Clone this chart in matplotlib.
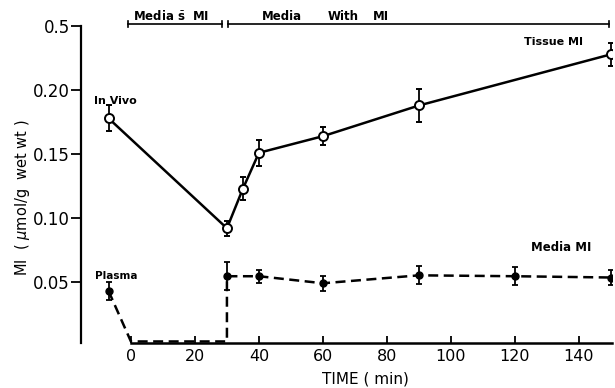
import numpy as np
import matplotlib.pyplot as plt

# Tissue MI (open circles)
tissue_t = [-7, 30, 35, 40, 60, 90, 150]
tissue_mi = [0.178, 0.092, 0.123, 0.151, 0.164, 0.188, 0.228]
tissue_err = [0.010, 0.006, 0.009, 0.010, 0.007, 0.013, 0.009]

# Media MI (filled circles)
media_t = [-7, 30, 40, 60, 90, 120, 150]
media_mi = [0.043, 0.0545, 0.0545, 0.049, 0.0552, 0.0545, 0.0535]
media_err = [0.007, 0.011, 0.005, 0.006, 0.007, 0.007, 0.006]

# dashed media trace (plasma -> no MI -> MI added)
trace_t = [-7, 0, 30, 30, 40, 60, 90, 120, 150]
trace_mi = [0.043, 0.0035, 0.0035, 0.0545, 0.0545, 0.049, 0.0552, 0.0545, 0.0535]

yticks = [0.05, 0.10, 0.15, 0.20, 0.25]
ytick_labels = ['0.05', '0.10', '0.15', '0.20', '0.5']
xticks = [0, 20, 40, 60, 80, 100, 120, 140]

fig = plt.figure(figsize=(6.15, 3.88), dpi=100)
ax = fig.add_axes([0.1317, 0.116, 0.8633, 0.832])
ax.set_xlim(-15.6, 150.3)
ax.set_ylim(0.0023, 0.2547)

# tissue
ax.plot(tissue_t, tissue_mi, color='black', lw=1.8, zorder=2)
ax.errorbar(tissue_t, tissue_mi, yerr=tissue_err, fmt='o', mfc='white',
            mec='black', mew=1.4, ms=6.5, ecolor='black', elinewidth=1.3,
            capsize=2.5, capthick=1.3, zorder=3)

# media
ax.plot(trace_t, trace_mi, color='black', lw=1.8, ls=(0, (4, 2.2)), zorder=2)
ax.errorbar(media_t, media_mi, yerr=media_err, fmt='o', mfc='black',
            mec='black', ms=5, ecolor='black', elinewidth=1.3,
            capsize=2.5, capthick=1.3, zorder=3)

# top bar (medium conditions)
ybar = 0.2516
ax.plot([-1, 28.6], [ybar, ybar], color='black', lw=1.2, clip_on=False)
ax.plot([30.3, 149.4], [ybar, ybar], color='black', lw=1.2, clip_on=False)
for xv in [-1, 28.6, 30.3, 149.4]:
    ax.plot([xv, xv], [ybar - 0.0025, ybar + 0.0025], color='black', lw=1.2,
            clip_on=False)
ax.text(0.5, ybar + 0.0008, r'Media $\bar{\mathbf{s}}$  MI', fontsize=8.5,
        fontweight='bold', ha='left', va='bottom')
ax.text(41, ybar + 0.0008, 'Media', fontsize=8.5, fontweight='bold',
        ha='left', va='bottom')
ax.text(61.5, ybar + 0.0008, 'With', fontsize=8.5, fontweight='bold',
        ha='left', va='bottom')
ax.text(75.5, ybar + 0.0008, 'MI', fontsize=8.5, fontweight='bold',
        ha='left', va='bottom')

# annotations
ax.text(-11.5, 0.1915, 'In Vivo', fontsize=8, fontweight='bold',
        ha='left', va='center')
ax.text(-11.3, 0.0545, 'Plasma', fontsize=7.5, fontweight='bold',
        ha='left', va='center')
ax.text(132, 0.2375, 'Tissue MI', fontsize=8, fontweight='bold',
        ha='center', va='center')
ax.text(134.5, 0.0773, 'Media MI', fontsize=8.5, fontweight='bold',
        ha='center', va='center')

ax.spines['top'].set_visible(False)
ax.spines['right'].set_visible(False)
ax.spines['left'].set_bounds(0.0023, 0.25)
ax.spines['bottom'].set_bounds(0, 150.3)
ax.spines['left'].set_linewidth(1.6)
ax.spines['bottom'].set_linewidth(1.8)

ax.set_yticks(yticks)
ax.set_yticklabels(ytick_labels)
ax.set_xticks(xticks)
ax.tick_params(axis='y', direction='out', length=7, width=1.3, labelsize=12,
               pad=1)
ax.tick_params(axis='x', direction='in', length=5, width=1.3, labelsize=11.5,
               pad=4)

fig.text(0.5935, 0.003, 'TIME ( min)', fontsize=11, ha='center', va='bottom')
fig.text(0.036, 0.49, r'MI  ( $\mu$mol/g  wet wt )', fontsize=10.5,
         rotation=90, ha='center', va='center')

fig.savefig('out.png', dpi=100)
